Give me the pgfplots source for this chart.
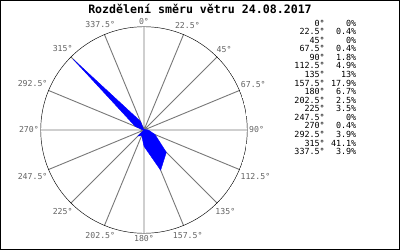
\documentclass[border=0pt]{standalone}
\usepackage{pgfplots}
\pgfplotsset{compat=1.18}
\usepgfplotslibrary{polar}
\usepackage{fontspec}
\setmonofont{DejaVu Sans Mono}
\definecolor{gridgray}{RGB}{120,120,120}
\definecolor{labgray}{RGB}{100,100,100}
\begin{document}
\begin{tikzpicture}[x=1pt,y=1pt]
\useasboundingbox (0,0) rectangle (400,250);
\fill[white] (0,0) rectangle (400,250);
\begin{polaraxis}[
  at={(144pt,120pt)}, anchor=origin,
  scale only axis, width=207pt, height=207pt,
  xmin=0, xmax=360, ymin=0, ymax=42.6,
  ytick=\empty,
  xtick={0,22.5,45,67.5,90,112.5,135,157.5,180,202.5,225,247.5,270,292.5,315,337.5},
  xticklabels={90°,67.5°,45°,22.5°,0°,337.5°,315°,292.5°,270°,247.5°,225°,202.5°,180°,157.5°,135°,112.5°},
  xmajorgrids=true, ymajorgrids=false,
  major grid style={gridgray, line width=0.9pt},
  axis line style={draw=none},
  major tick length=0pt,
  xticklabel style={font=\fontsize{8.2}{9}\selectfont\ttfamily, text=labgray, inner sep=1.5pt},
]
\addplot[fill=blue, draw=blue, line width=0.4pt, mark=none] coordinates {
(90,0) (67.5,0.4) (45,0) (22.5,0.4) (0,1.8) (337.5,4.9) (315,13) (292.5,17.9)
(270,6.7) (247.5,2.5) (225,3.5) (202.5,0) (180,0.4) (157.5,3.9) (135,41.1)
(112.5,3.9) (90,0)
};
\draw[black, line width=0.9pt] (axis cs:0,0) circle[radius=103.5pt];
\end{polaraxis}
\node[anchor=base, font=\fontsize{11.6}{12}\selectfont\ttfamily\bfseries, inner sep=0pt] at (200,236.5) {Rozdělení směru větru 24.08.2017};
\foreach \a/\p [count=\i] in {0°/0\%,22.5°/0.4\%,45°/0\%,67.5°/0.4\%,90°/1.8\%,112.5°/4.9\%,135°/13\%,157.5°/17.9\%,180°/6.7\%,202.5°/2.5\%,225°/3.5\%,247.5°/0\%,270°/0.4\%,292.5°/3.9\%,315°/41.1\%,337.5°/3.9\%}{
  \node[anchor=base east, inner sep=0pt, font=\fontsize{8.4}{9}\selectfont\ttfamily] at (325,{224-(\i-1)*8.58}) {\a};
  \node[anchor=base east, inner sep=0pt, font=\fontsize{8.4}{9}\selectfont\ttfamily] at (356.5,{224-(\i-1)*8.58}) {\p};
}
\draw[black, line width=1pt] (0.5,0.5) rectangle (399.5,249.5);
\end{tikzpicture}
\end{document}
